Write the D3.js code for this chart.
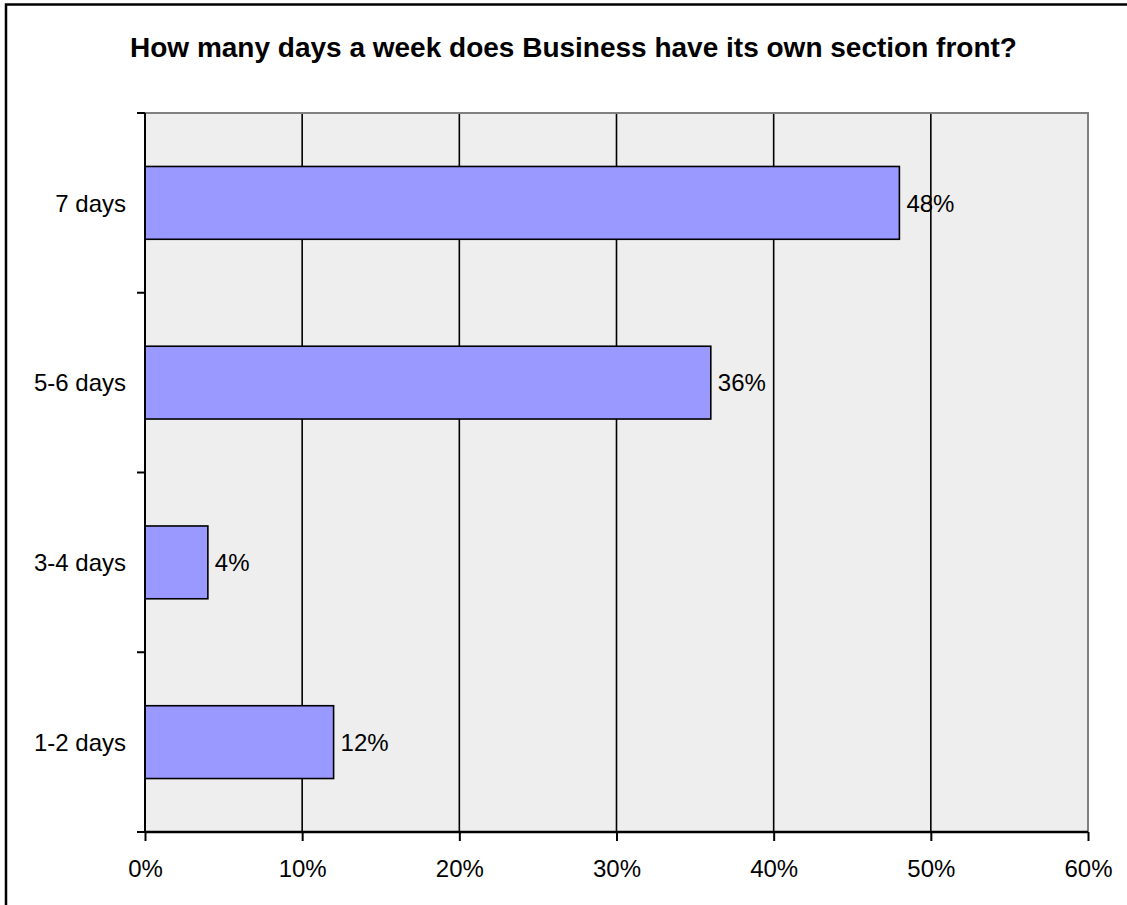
<!DOCTYPE html>
<html>
<head>
<meta charset="utf-8">
<script src="https://cdn.jsdelivr.net/npm/d3@7"></script>
<style>
  html, body { margin: 0; padding: 0; background: #fff; }
  svg { display: block; }
  text { font-family: "Liberation Sans", Arial, sans-serif; fill: #000; }
</style>
</head>
<body>
<svg id="chart" width="1127" height="905"></svg>
<script>
// Survey answers, top to bottom
const categories = ["7 days", "5-6 days", "3-4 days", "1-2 days"];
const values = [48, 36, 4, 12];
const xTicks = [0, 10, 20, 30, 40, 50, 60];
const title = "How many days a week does Business have its own section front?";

const svg = d3.select("#chart");
const W = 1127, H = 905;
const plot = { left: 145, right: 1088, top: 113, bottom: 832 };

// Outer frame (only top and left edges fall inside the page)
svg.append("rect")
  .attr("x", 6).attr("y", 4.5)
  .attr("width", W + 20).attr("height", H + 20)
  .attr("fill", "none").attr("stroke", "#000").attr("stroke-width", 2.5);

const x = d3.scaleLinear().domain([0, 60]).range([plot.left, plot.right]);
const y = d3.scaleBand().domain(categories).range([plot.top, plot.bottom])
  .paddingInner(0.595).paddingOuter(0.2975);
const yEdges = d3.scalePoint().domain(d3.range(categories.length + 1))
  .range([plot.top, plot.bottom]);

// Plot background
svg.append("rect")
  .attr("x", plot.left).attr("y", plot.top)
  .attr("width", plot.right - plot.left).attr("height", plot.bottom - plot.top)
  .attr("fill", "#eeeeee");

// Vertical gridlines
svg.append("g").selectAll("line")
  .data(xTicks.filter(t => t > 0 && t < 60))
  .join("line")
  .attr("x1", d => x(d)).attr("x2", d => x(d))
  .attr("y1", plot.top).attr("y2", plot.bottom)
  .attr("stroke", "#000").attr("stroke-width", 1.6);

// Plot border: grey top and right edges
svg.append("path")
  .attr("d", `M${plot.left},${plot.top}H${plot.right}V${plot.bottom}`)
  .attr("fill", "none").attr("stroke", "#808080").attr("stroke-width", 2);

// Bars
svg.append("g").selectAll("rect")
  .data(values)
  .join("rect")
  .attr("x", x(0))
  .attr("y", (d, i) => y(categories[i]))
  .attr("width", d => x(d) - x(0))
  .attr("height", y.bandwidth())
  .attr("fill", "#9999ff")
  .attr("stroke", "#000").attr("stroke-width", 1.6);

// Value labels
svg.append("g").selectAll("text")
  .data(values)
  .join("text")
  .attr("x", d => x(d) + 7)
  .attr("y", (d, i) => y(categories[i]) + y.bandwidth() / 2)
  .attr("dy", "0.36em")
  .attr("font-size", 24)
  .text(d => d + "%");

// Left axis line and ticks at category boundaries
svg.append("line")
  .attr("x1", plot.left).attr("x2", plot.left)
  .attr("y1", plot.top).attr("y2", plot.bottom)
  .attr("stroke", "#000").attr("stroke-width", 2);
svg.append("g").selectAll("line")
  .data(yEdges.domain())
  .join("line")
  .attr("x1", plot.left - 8).attr("x2", plot.left)
  .attr("y1", d => yEdges(d)).attr("y2", d => yEdges(d))
  .attr("stroke", "#000").attr("stroke-width", 2);

// Category labels
svg.append("g").selectAll("text")
  .data(categories)
  .join("text")
  .attr("x", 126)
  .attr("y", d => y(d) + y.bandwidth() / 2)
  .attr("dy", "0.36em")
  .attr("text-anchor", "end")
  .attr("font-size", 24)
  .text(d => d);

// Bottom axis
const xAxis = d3.axisBottom(x)
  .tickValues(xTicks)
  .tickSize(9)
  .tickPadding(19)
  .tickFormat(d => d + "%");
const gx = svg.append("g")
  .attr("transform", `translate(0,${plot.bottom})`)
  .call(xAxis);
gx.select(".domain").attr("stroke", "#000").attr("stroke-width", 2.4)
  .attr("d", `M${plot.left},0H${plot.right}`);
gx.selectAll(".tick line").attr("stroke", "#000").attr("stroke-width", 2);
gx.selectAll(".tick text")
  .attr("font-family", "'Liberation Sans', Arial, sans-serif")
  .attr("font-size", 24).attr("fill", "#000");

// Title
svg.append("text")
  .attr("x", 130).attr("y", 57)
  .attr("font-size", 28)
  .attr("font-weight", "bold")
  .text(title);
</script>
</body>
</html>
